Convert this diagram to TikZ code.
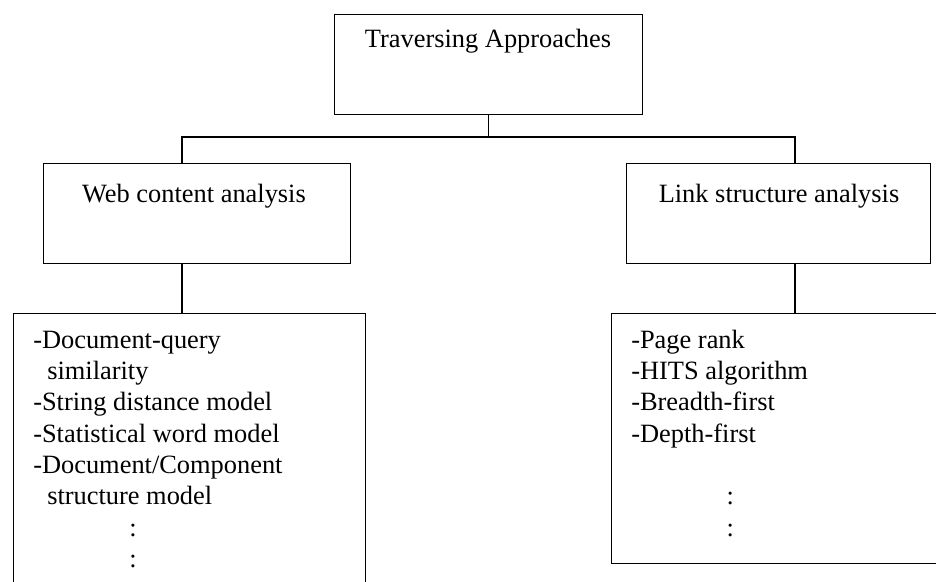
\documentclass[tikz,border=0pt]{standalone}
\usepackage{fontspec}
\setmainfont{Liberation Serif}
\begin{document}
\begin{tikzpicture}[x=0.75pt,y=-0.75pt,
  box/.style={draw=black,line width=1pt,anchor=north west,inner sep=0pt,fill=none},
  caption/.style={anchor=base,inner sep=0pt,font=\fontsize{19.8}{23.5}\selectfont},
  listtext/.style={anchor=base west,inner sep=0pt,font=\fontsize{19.8}{23.5}\selectfont},
  link/.style={draw=black,line width=1pt}]
\path[use as bounding box,clip] (0,0) rectangle (936,582);

% boxes
\node[box,minimum width=231pt,minimum height=75pt] (top) at (334,14) {};
\node[box,minimum width=230.25pt,minimum height=75pt] (web) at (43,163) {};
\node[box,minimum width=228pt,minimum height=75pt] (lnk) at (626,163) {};
\node[box,minimum width=264pt,minimum height=218pt] (webl) at (13,313) {};
\node[box,minimum width=250.5pt,minimum height=187.5pt] (lnkl) at (611,313) {};

% headings
\node[caption] (toptxt) at (488,47) {Traversing Approaches};
\node[caption] (webtxt) at (194,202) {Web content analysis};
\node[caption] (lnktxt) at (779,202) {Link structure analysis};

% lists
\node[listtext] (weblist) at (33,348) {\begin{tabular}[t]{@{}l@{}}
-Document-query\\
\hspace*{10.5pt}similarity\\
-String distance model\\
-Statistical word model\\
-Document/Component\\
\hspace*{10.5pt}structure model\\
\hspace*{72pt}:\\
\hspace*{72pt}:
\end{tabular}};
\node[listtext] (lnklist) at (631,348) {\begin{tabular}[t]{@{}l@{}}
-Page rank\\
-HITS algorithm\\
-Breadth-first\\
-Depth-first\\
\\
\hspace*{71.6pt}:\\
\hspace*{71.6pt}:
\end{tabular}};

% connectors
\coordinate (jweb) at (182,163);
\coordinate (jlnk) at (795,163);
\draw[link] (top.south) -- (top.south |- 0,137);
\draw[link] (jweb) -- ++(0,-26) -| (jlnk);
\draw[link] (web.south -| jweb) -- (webl.north -| jweb);
\draw[link] (lnk.south -| jlnk) -- (lnkl.north -| jlnk);
\end{tikzpicture}
\end{document}
